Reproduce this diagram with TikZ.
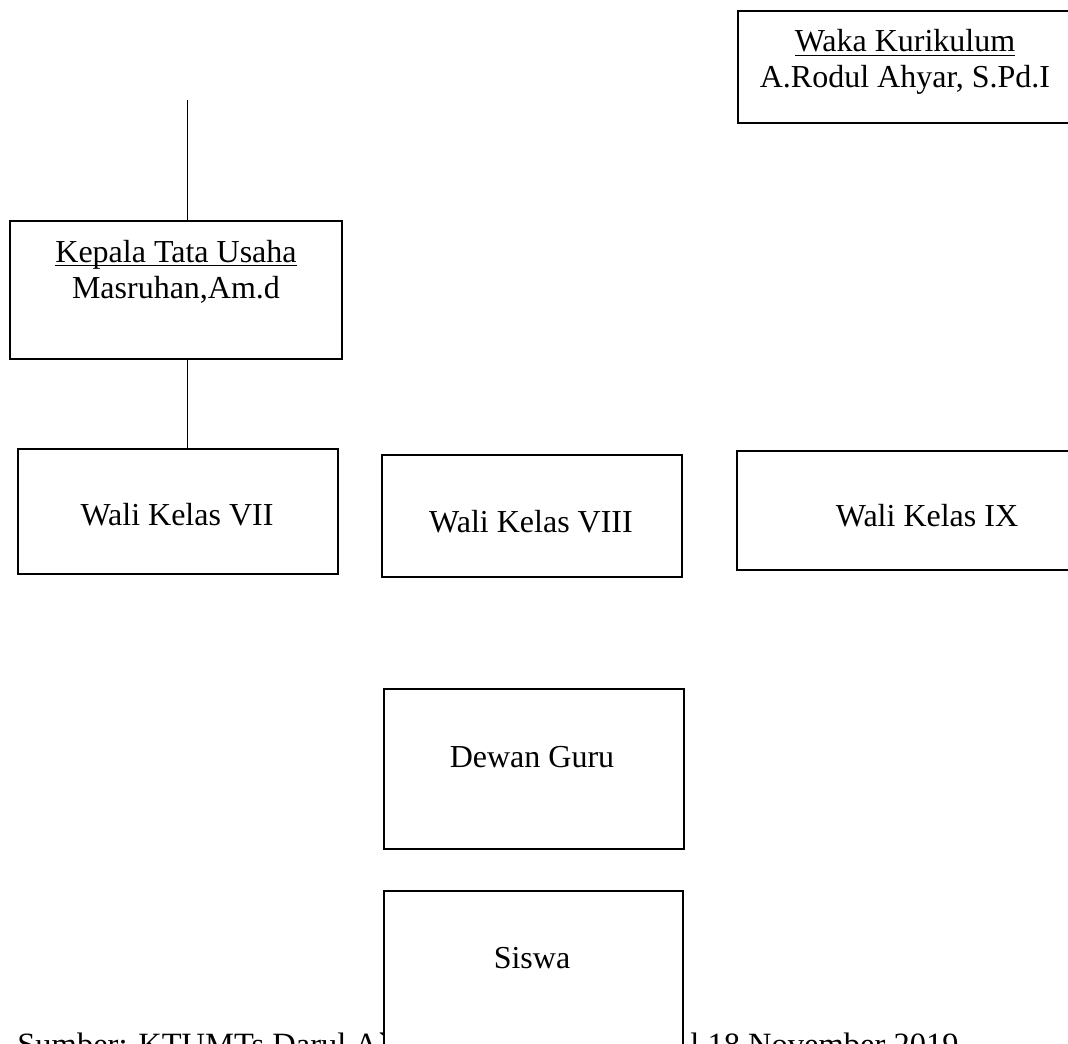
\documentclass[tikz,border=0pt]{standalone}
\usepackage{fontspec}
\setmainfont{Liberation Serif}
\newfontfamily\plainserif{Liberation Serif}
\usetikzlibrary{positioning}
\newcommand\ruleunder[1]{\setbox0\hbox{#1}\rlap{\rule[-2pt]{\wd0}{0.6pt}}\box0}

\begin{document}
\begin{tikzpicture}[x=0.5pt, y=-0.5pt,
  box/.style={draw, line width=1pt, anchor=north west, inner sep=0pt},
  lbl/.style={align=center, inner sep=0pt, anchor=base,
              font=\fontsize{16}{18}\selectfont},
  src/.style={inner sep=0pt, anchor=base west,
              font=\plainserif\fontsize{16.25}{18}\selectfont},
  con/.style={line width=0.5pt}]
\useasboundingbox (0,0) rectangle (1068,1043);
\clip (0,0) rectangle (1068,1043);
% source line, partly under the Siswa box
\node[src] (srcl) at (17,1055) {Sumber: KTUMTs Darul A`};
\node[src] (srcr) at (690,1055) {l 18 November 2019};
% boxes
\node[box, minimum width=168pt, minimum height=56pt] (waka) at (737,10) {};
\node[box, minimum width=166pt, minimum height=69pt] (kepala) at (9,220) {};
\node[box, minimum width=160pt, minimum height=62.5pt] (vii) at (17,448) {};
\node[box, minimum width=150pt, minimum height=61pt] (viii) at (381,454) {};
\node[box, minimum width=200pt, minimum height=59.5pt] (ix) at (736,450) {};
\node[box, minimum width=150pt, minimum height=80pt] (dewan) at (383,688) {};
\node[box, fill=white, minimum width=149.5pt, minimum height=110pt] (siswa) at (383,890) {};
% texts (two-line ones sit on their last line)
\node[lbl] (wakat) at (905,88) {\ruleunder{Waka Kurikulum}\\A.Rodul Ahyar, S.Pd.I};
\node[lbl] (kepalat) at (176,298) {\ruleunder{Kepala Tata Usaha}\\Masruhan,Am.d};
\node[lbl] (viit) at (177,525) {Wali Kelas VII};
\node[lbl] (viiit) at (531,532) {Wali Kelas VIII};
\node[lbl] (ixt) at (927,526) {Wali Kelas IX};
\node[lbl] (dewant) at (532,767) {Dewan Guru};
\node[lbl] (siswat) at (532,968) {Siswa};
% connectors
\coordinate (topend) at (187,100);
\draw[con] (topend) -- (topend |- kepala.north);
\draw[con] (kepala.south -| topend) -- (vii.north -| topend);
\end{tikzpicture}
\end{document}
